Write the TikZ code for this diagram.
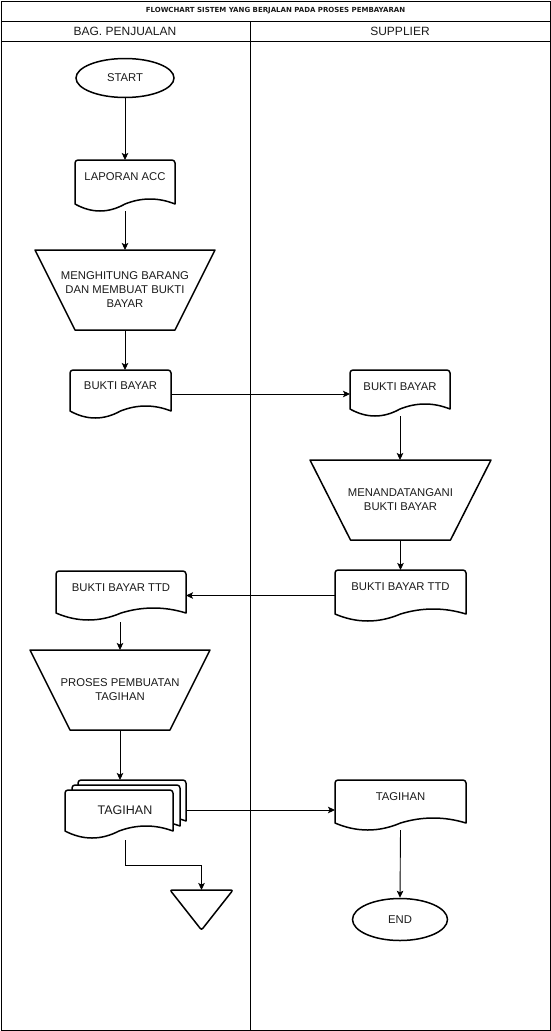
\documentclass[tikz,border=0pt]{standalone}
\usepackage{fontspec}
\setmainfont{Liberation Sans}
\newfontfamily\titlefont{DejaVu Sans}
\usetikzlibrary{arrows.meta,calc,shapes.geometric}
\definecolor{txtc}{HTML}{1A1A1A}
\tikzset{
  shp/.style={line width=1.5pt, draw=black, fill=white, line join=round},
  shpnf/.style={line width=1.5pt, draw=black, line join=round},
  box/.style={draw=none, inner sep=0pt, outer sep=0pt, rectangle, anchor=north west},
  lbl/.style={font=\fontsize{11.3}{14}\selectfont, align=center, text=txtc, inner sep=0pt},
  hdr/.style={font=\fontsize{12}{14}\selectfont, text=txtc, inner sep=0pt},
  ttl/.style={font=\titlefont\bfseries\fontsize{7}{8}\selectfont, text=txtc, inner sep=0pt},
  term/.style={ellipse, draw=black, line width=1.5pt, inner sep=0pt, font=\fontsize{11.3}{14}\selectfont, text=txtc},
  arr/.style={line width=0.9pt, -{Stealth[length=7pt,width=6.5pt,inset=1.5pt]}},
  ln/.style={line width=0.9pt},
  frame/.style={line width=0.9pt}
}
\newcommand\docshape[1]{%
  \draw[shp] let \p1=(#1.north west), \p2=(#1.south east), \p3=([yshift=7pt]#1.south west) in
    (\x1,\y3) -- ({\x1},{\y1-3pt}) arc[start angle=180,end angle=90,radius=3pt]
    -- ({\x2-3pt},\y1) arc[start angle=90,end angle=0,radius=3pt]
    -- (\x2,\y3) .. controls ({\x2-(\x2-\x1)/6},{\y3+6.67pt}) and ({\x2-(\x2-\x1)/3},{\y3+6.67pt}) .. ({(\x1+\x2)/2},\y3)
    .. controls ({\x1+(\x2-\x1)/3},{\y3-9.33pt}) and ({\x1+(\x2-\x1)/6},{\y3-9.33pt}) .. (\x1,\y3) -- cycle;}
\newcommand\trapshape[2]{%
  \draw[shpnf] let \p1=(#1.north west), \p2=(#1.south east) in
    (\x1,\y1) -- (\x2,\y1) -- ({\x2-#2},\y2) -- ({\x1+#2},\y2) -- cycle;}
\begin{document}
\begin{tikzpicture}[x=1pt,y=-1pt]
\useasboundingbox (0,0) rectangle (551,1031);
% frame
\draw[frame] (1,1) rectangle (550,1030);
\draw[frame] (1,21) -- (550,21);
\draw[frame] (1,41) -- (550,41);
\draw[frame] (250,21) -- (250,1030);
\node[ttl] (title) at (275.5,11) {FLOWCHART SISTEM YANG BERJALAN PADA PROSES PEMBAYARAN};
\node[hdr] (h1) at (125,31) {BAG. PENJUALAN};
\node[hdr] (h2) at (400,31) {SUPPLIER};

% left lane
\node[term, minimum width=98pt, minimum height=39pt] (start) at (125,78) {START};

\node[box, minimum width=100pt, minimum height=51pt] (lap) at (75,160) {};
\docshape{lap}
\node[lbl] (lapt) at (125,177) {LAPORAN ACC};

\node[box, lbl, anchor=center, minimum width=180pt, minimum height=80pt] (p1) at (125,290) {MENGHITUNG BARANG\\DAN MEMBUAT BUKTI\\BAYAR};
\trapshape{p1}{40pt}

\node[box, minimum width=101pt, minimum height=48pt] (bbl) at (70,370) {};
\docshape{bbl}
\node[lbl] (bblt) at (120.5,386) {BUKTI BAYAR};

\node[box, minimum width=130pt, minimum height=49pt] (ttdl) at (56,571) {};
\docshape{ttdl}
\node[lbl] (ttdlt) at (121,588) {BUKTI BAYAR TTD};

\node[box, lbl, anchor=center, minimum width=180pt, minimum height=80pt] (p3) at (120,690) {PROSES PEMBUATAN\\TAGIHAN};
\trapshape{p3}{40pt}

\node[box, minimum width=108pt, minimum height=48pt] (mb) at (78,780) {};
\docshape{mb}
\node[box, minimum width=108pt, minimum height=48pt] (mm) at (72,785) {};
\docshape{mm}
\node[box, minimum width=108pt, minimum height=48pt] (mf) at (65,790) {};
\docshape{mf}
\node[lbl, font=\fontsize{12.5}{14}\selectfont] (mt) at (125,810) {TAGIHAN};

\node[box, minimum width=63pt, minimum height=40pt] (tri) at (170,890) {};
\draw[shpnf, rounded corners=2pt] let \p1=(tri.north west), \p2=(tri.south east) in
  (\x1,\y1) -- (\x2,\y1) -- ({(\x1+\x2)/2},\y2) -- cycle;

% right lane
\node[box, minimum width=100pt, minimum height=46pt] (bbr) at (350,370) {};
\docshape{bbr}
\node[lbl] (bbrt) at (400,387) {BUKTI BAYAR};

\node[box, lbl, anchor=center, minimum width=181pt, minimum height=80pt] (p2) at (400.5,500) {MENANDATANGANI\\BUKTI BAYAR};
\trapshape{p2}{40.5pt}

\node[box, minimum width=131pt, minimum height=51pt] (ttdr) at (335,570) {};
\docshape{ttdr}
\node[lbl] (ttdrt) at (400.5,587) {BUKTI BAYAR TTD};

\node[box, minimum width=131pt, minimum height=50pt] (tagr) at (335,780) {};
\docshape{tagr}
\node[lbl] (tagrt) at (400.5,797) {TAGIHAN};

\node[term, minimum width=95pt, minimum height=42pt] (end) at (400,919.5) {END};

% connectors
\draw[arr] (start.south) -- (lap.north);
\draw[arr] (lap.south) -- (p1.north);
\draw[arr] (p1.south) -- (p1.south |- bbl.north);
\draw[arr] (bbl.east) -- (bbl.east -| bbr.west);
\draw[arr] (bbr.south) -- (bbr.south |- p2.north);
\draw[arr] (p2.south) -- (p2.south |- ttdr.north);
\draw[arr] (ttdr.west) -- (ttdr.west -| ttdl.east);
\draw[arr] ([yshift=-2pt]ttdl.south -| p3.north) -- (p3.north);
\draw[arr] (p3.south) -- (p3.south |- mb.north);
\draw[arr] (mb.east |- mt) -- (tagr.west |- mt);
\draw[arr] ([yshift=-2pt]mf.south -| mt) -- ++(0,25) -| (tri.north);
\draw[arr] (tagr.south) -- (end.north);
\end{tikzpicture}
\end{document}
